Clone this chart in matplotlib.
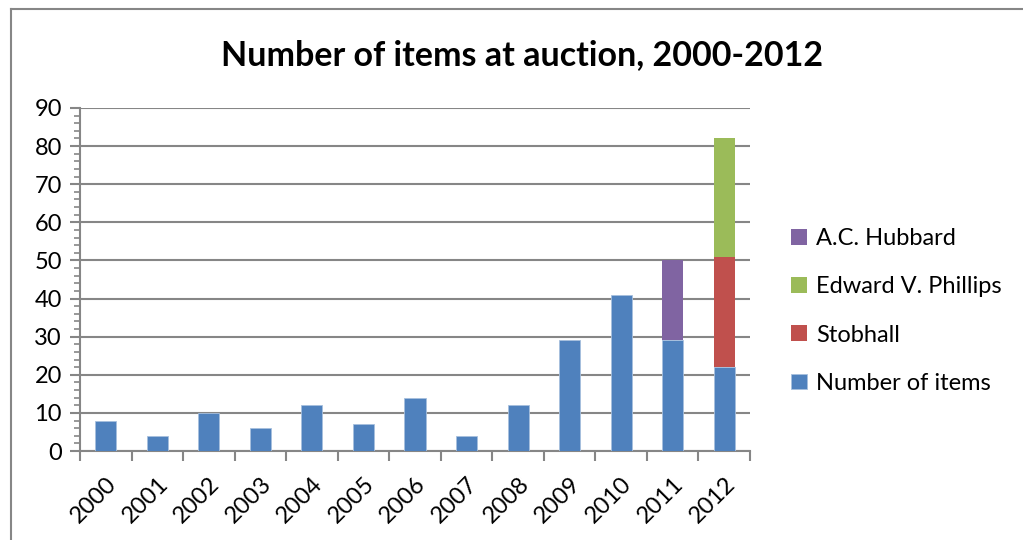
import numpy as np
import matplotlib.pyplot as plt
from matplotlib.ticker import MultipleLocator

plt.rcParams['font.family'] = ['Lato', 'DejaVu Sans']

# data
years = ['2000', '2001', '2002', '2003', '2004', '2005', '2006',
         '2007', '2008', '2009', '2010', '2011', '2012']
items = [8, 4, 10, 6, 12, 7, 14, 4, 12, 29, 41, 29, 22]
stobhall = [0, 0, 0, 0, 0, 0, 0, 0, 0, 0, 0, 0, 29]
phillips = [0, 0, 0, 0, 0, 0, 0, 0, 0, 0, 0, 0, 31]
hubbard = [0, 0, 0, 0, 0, 0, 0, 0, 0, 0, 0, 21, 0]

c_blue = '#4F81BD'
c_red = '#C0504D'
c_green = '#9BBB59'
c_purple = '#8064A2'
grid_c = '#868686'

fig = plt.figure(figsize=(10.23, 5.4), dpi=100)
ax = fig.add_axes([80 / 1023, 1 - 451 / 540, 670 / 1023, 343 / 540])

x = np.arange(len(years))
w = 0.41
items = np.array(items)
stobhall = np.array(stobhall)
phillips = np.array(phillips)
hubbard = np.array(hubbard)

b1 = ax.bar(x, items, w, color=c_blue, edgecolor='#A7C0DE', linewidth=0.6, zorder=3)
b2 = ax.bar(x, stobhall, w, bottom=items, color=c_red, zorder=3)
b3 = ax.bar(x, phillips, w, bottom=items + stobhall, color=c_green, zorder=3)
b4 = ax.bar(x, hubbard, w, bottom=items, color=c_purple, zorder=3)

ax.set_xlim(-0.5, len(years) - 0.5)
ax.set_ylim(0, 90)
ax.yaxis.set_major_locator(MultipleLocator(10))
ax.yaxis.set_minor_locator(MultipleLocator(2))
ax.grid(axis='y', color=grid_c, linewidth=1.5, zorder=0)

ax.set_xticks(x)
ax.set_xticklabels(years, rotation=45, ha='right', rotation_mode='anchor', fontsize=17)
ax.set_xticks(np.arange(-0.5, len(years)), minor=True)
ax.tick_params(axis='x', which='major', length=0, pad=16)
ax.tick_params(axis='x', which='minor', length=7, width=1.5, color=grid_c, direction='out')
ax.tick_params(axis='y', which='major', length=7, width=1.5, color=grid_c, labelsize=17, pad=6)
ax.tick_params(axis='y', which='minor', length=4, width=1.2, color=grid_c)

for s in ['top', 'right']:
    ax.spines[s].set_visible(False)
for s in ['left', 'bottom']:
    ax.spines[s].set_color(grid_c)
    ax.spines[s].set_linewidth(1.5)

fig.text(522 / 1023, 1 - 55 / 540, 'Number of items at auction, 2000-2012',
         ha='center', va='center', fontsize=24.5, fontweight='bold')

leg = fig.legend([b4, b3, b2, b1],
                 ['A.C. Hubbard', 'Edward V. Phillips', 'Stobhall', 'Number of items'],
                 loc='center left', bbox_to_anchor=(770 / 1023, 1 - 311 / 540),
                 frameon=False, fontsize=17, handlelength=0.65, handleheight=0.65,
                 handletextpad=0.4, labelspacing=1.15)

# outer chart border (top and left edges visible)
fig.add_artist(plt.Line2D([11 / 1023, 11 / 1023], [0, 1 - 9 / 540],
                          transform=fig.transFigure, color=grid_c, linewidth=1.5))
fig.add_artist(plt.Line2D([11 / 1023, 1022 / 1023], [1 - 9 / 540, 1 - 9 / 540],
                          transform=fig.transFigure, color=grid_c, linewidth=1.5))

fig.savefig('out.png', dpi=100)
